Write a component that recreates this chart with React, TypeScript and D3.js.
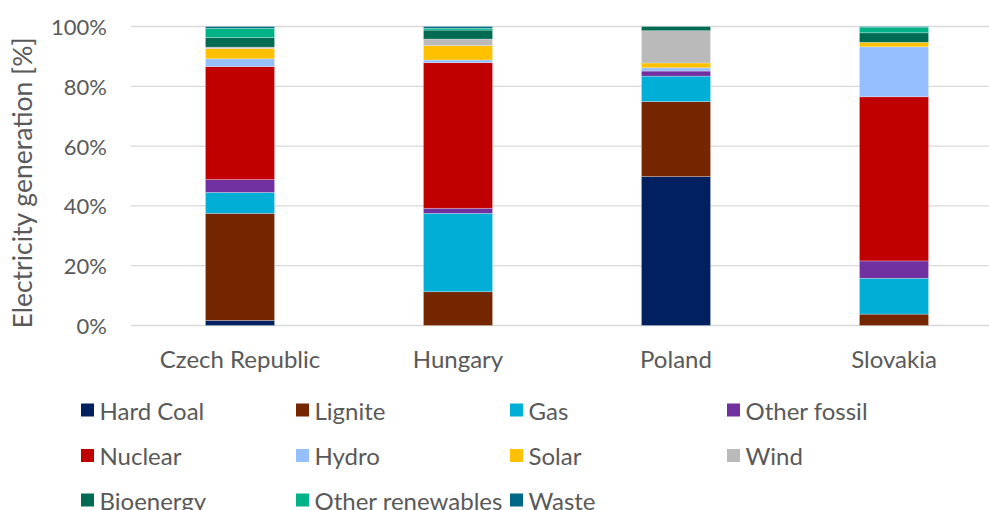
import React from "react";
import * as d3 from "d3";

const categories = ["Czech Republic", "Hungary", "Poland", "Slovakia"];

// Share of electricity generation per source, % by country (same order as categories)
const hardCoal = [1.7, 0, 49.8, 0];
const lignite = [35.8, 11.3, 25.1, 3.8];
const gas = [7.0, 26.2, 8.5, 12.0];
const otherFossil = [4.3, 1.7, 1.7, 5.8];
const nuclear = [37.8, 48.7, 0, 54.9];
const hydro = [2.6, 0.9, 1.1, 16.7];
const solar = [3.4, 4.8, 1.6, 1.5];
const wind = [0.5, 2.2, 10.8, 0];
const bioenergy = [3.2, 3.0, 1.4, 3.2];
const otherRenewables = [3.1, 0.6, 0, 1.9];
const waste = [0.6, 0.6, 0, 0.2];

const seriesNames = [
  "Hard Coal", "Lignite", "Gas", "Other fossil", "Nuclear", "Hydro",
  "Solar", "Wind", "Bioenergy", "Other renewables", "Waste",
];
const seriesValues = [
  hardCoal, lignite, gas, otherFossil, nuclear, hydro,
  solar, wind, bioenergy, otherRenewables, waste,
];
const seriesColors = [
  "#002060", "#732600", "#00AED6", "#7030A0", "#C00000", "#95BFFF",
  "#FFC000", "#BABABA", "#006B52", "#00B386", "#006985",
];
const yTicks = [0, 20, 40, 60, 80, 100];

const W = 989;
const H = 510;
const FONT = "Lato, 'Open Sans', sans-serif";
const TEXT = "#595959";

export default function App() {
  const x = d3
    .scaleBand<string>()
    .domain(categories)
    .range([131, 1003])
    .paddingInner(0.683)
    .paddingOuter(0.683 / 2);
  const y = d3.scaleLinear().domain([0, 100]).range([325.5, 26.5]);

  const rows = categories.map((c, i) => {
    const r: Record<string, any> = { category: c };
    seriesNames.forEach((s, k) => (r[s] = seriesValues[k][i]));
    return r;
  });
  const stacked = d3.stack<any>().keys(seriesNames)(rows);

  const legendCols = [81, 296, 510, 727];
  const legendRows = [410, 455.5, 500];

  return (
    <svg
      width={W}
      height={H}
      style={{ position: "absolute", left: 0, top: 0, background: "#fff" }}
      fontFamily={FONT}
    >
      {yTicks.map((t) => (
        <g key={t}>
          <line x1={131} x2={W} y1={y(t)} y2={y(t)} stroke="#D9D9D9" strokeWidth={1.3} />
          <text
            x={107}
            y={y(t)}
            textAnchor="end"
            dominantBaseline="central"
            fontSize={22}
            fill={TEXT}
          >
            {t}%
          </text>
        </g>
      ))}
      <text
        transform={`translate(31.5,${183}) rotate(-90)`}
        textAnchor="middle"
        fontSize={26.5}
        fill={TEXT}
      >
        Electricity generation [%]
      </text>

      {stacked.map((layer, k) => (
        <g key={layer.key} fill={seriesColors[k]}>
          {layer.map((d, i) => {
            const h = y(d[0]) - y(d[1]);
            if (h <= 0) return null;
            return (
              <rect
                key={i}
                x={x(categories[i])}
                y={y(d[1])}
                width={x.bandwidth()}
                height={h}
                stroke="#ffffff"
                strokeOpacity={0.35}
                strokeWidth={0.75}
              />
            );
          })}
        </g>
      ))}

      {categories.map((c) => (
        <text
          key={c}
          x={(x(c) as number) + x.bandwidth() / 2}
          y={358}
          textAnchor="middle"
          dominantBaseline="central"
          fontSize={24}
          fill={TEXT}
        >
          {c}
        </text>
      ))}

      {seriesNames.map((s, k) => {
        const cx = legendCols[k % 4];
        const cy = legendRows[Math.floor(k / 4)];
        return (
          <g key={s}>
            <rect x={cx} y={cy - 6.5} width={13} height={13} fill={seriesColors[k]} />
            <text
              x={cx + 18.5}
              y={cy}
              dominantBaseline="central"
              fontSize={24}
              fill={TEXT}
            >
              {s}
            </text>
          </g>
        );
      })}
    </svg>
  );
}
